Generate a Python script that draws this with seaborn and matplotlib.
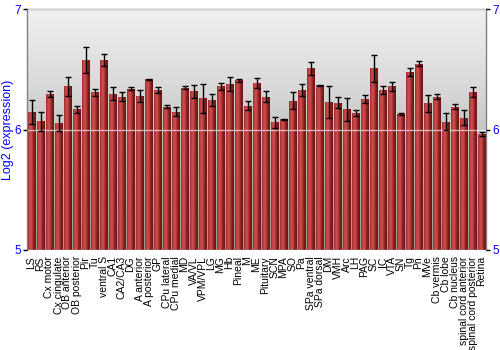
import numpy as np
import pandas as pd
import matplotlib
matplotlib.use("Agg")
import matplotlib.pyplot as plt
from matplotlib.colors import LinearSegmentedColormap
import seaborn as sns

regions = ["LS", "RS", "Cx motor", "Cx cingulate", "OB anterior", "OB posterior", "Pir", "Tu",
           "ventral S", "CA1", "CA2/CA3", "DG", "A anterior", "A posterior", "GP", "CPu lateral",
           "CPu medial", "MD", "VA/VL", "VPM/VPL", "LG", "MG", "Hb", "Pineal", "M", "ME",
           "Pituitary", "SCN", "MPA", "SO", "Pa", "SPa ventral", "SPa dorsal", "DM", "VMH", "Arc",
           "LH", "PAG", "SC", "IC", "VTA", "SN", "Tg", "Pn", "MVe", "Cb vermis", "Cb lobe",
           "Cb nucleus", "spinal cord anterior", "spinal cord posterior", "Retina"]
expression = [6.15, 6.07, 6.30, 6.055, 6.36, 6.17, 6.58, 6.31,
              6.58, 6.30, 6.275, 6.34, 6.28, 6.42, 6.33, 6.19,
              6.15, 6.35, 6.32, 6.26, 6.25, 6.36, 6.38, 6.41, 6.20, 6.39,
              6.275, 6.06, 6.086, 6.24, 6.33, 6.51, 6.37, 6.23, 6.225, 6.17,
              6.14, 6.256, 6.51, 6.33, 6.36, 6.13, 6.48, 6.55, 6.22, 6.275, 6.065,
              6.19, 6.10, 6.31, 5.965]
error = [0.10, 0.08, 0.025, 0.07, 0.08, 0.03, 0.11, 0.03,
         0.05, 0.057, 0.04, 0.012, 0.05, 0.005, 0.022, 0.012,
         0.037, 0.015, 0.055, 0.12, 0.05, 0.03, 0.055, 0.014, 0.036, 0.04,
         0.045, 0.046, 0.005, 0.07, 0.046, 0.055, 0.005, 0.135, 0.047, 0.094,
         0.025, 0.036, 0.115, 0.03, 0.035, 0.008, 0.03, 0.023, 0.07, 0.02, 0.07,
         0.02, 0.063, 0.042, 0.015]
y_ticks = [5, 6, 7]

sns.set_style("white")
plt.rcParams['font.family'] = ['Liberation Sans', 'DejaVu Sans']
plt.rcParams['text.color'] = 'black'
plt.rcParams['xtick.color'] = 'black'
plt.rcParams['ytick.color'] = 'black'

df = pd.DataFrame({"region": regions, "expr": expression, "err": error})

fig = plt.figure(figsize=(5, 3.5), dpi=100)
ax = fig.add_axes([0.054, 0.286, 0.918, 0.687])

# background vertical gradient
bg = LinearSegmentedColormap.from_list("bg", ["#f1f1f1", "#d8d8d8", "#b4b4b4", "#9a9a9a"])
ax.imshow(np.linspace(0, 1, 256).reshape(-1, 1), cmap=bg, aspect="auto",
          extent=[0, 1, 0, 1], transform=ax.transAxes, zorder=0)

sns.barplot(data=df, x="region", y="expr", color="#b83a3a", width=0.8,
            errorbar=None, ax=ax, zorder=2, saturation=1)

ax.set_ylim(5, 7)
ax.set_xlim(-0.5, len(regions) - 0.5)

# cylinder-like horizontal gradient in each bar
barcm = LinearSegmentedColormap.from_list("bar", ["#9c2828", "#c44646", "#c95050", "#a83232", "#7a1c1c", "#6a1616"])
grad = np.linspace(0, 1, 64).reshape(1, -1)
ybot = y_ticks[0]
for p in ax.patches:
    x0 = p.get_x(); w = p.get_width(); top = p.get_y() + p.get_height()
    im = ax.imshow(grad, cmap=barcm, aspect="auto", extent=[x0, x0 + w, ybot, top],
                   zorder=2.5)
    im.set_clip_path(p)
    p.set_edgecolor("#d08080")
    p.set_linewidth(0.4)

ax.set_xlim(-0.5, len(regions) - 0.5)
ax.set_ylim(5, 7)

ax.errorbar(np.arange(len(regions)), df["expr"], yerr=df["err"], fmt="none",
            ecolor="black", elinewidth=1.0, capsize=2.2, capthick=1.0, zorder=4)

ax.set_yticks(y_ticks)
ax.yaxis.grid(True, color="white", alpha=0.6, linewidth=1.0)
ax.set_axisbelow(False)
for gl in ax.get_ygridlines():
    gl.set_zorder(3)

ax.tick_params(axis="y", which="both", left=True, right=True, labelleft=True, labelright=True,
               labelsize=8.5, labelcolor="blue", length=3, width=1, color="black", direction="out", pad=1.5)
ax.tick_params(axis="x", bottom=False, labelsize=7.5, labelrotation=90, pad=1, labelcolor="black")
ax.set_xlabel("")
ax.set_ylabel("Log2 (expression)", color="blue", fontsize=9)
ax.yaxis.set_label_coords(-0.028, 0.5)

for s in ["left", "top", "right"]:
    ax.spines[s].set_color("#808080")
    ax.spines[s].set_linewidth(1)
ax.spines["bottom"].set_visible(False)

fig.savefig("out.png", dpi=100)
